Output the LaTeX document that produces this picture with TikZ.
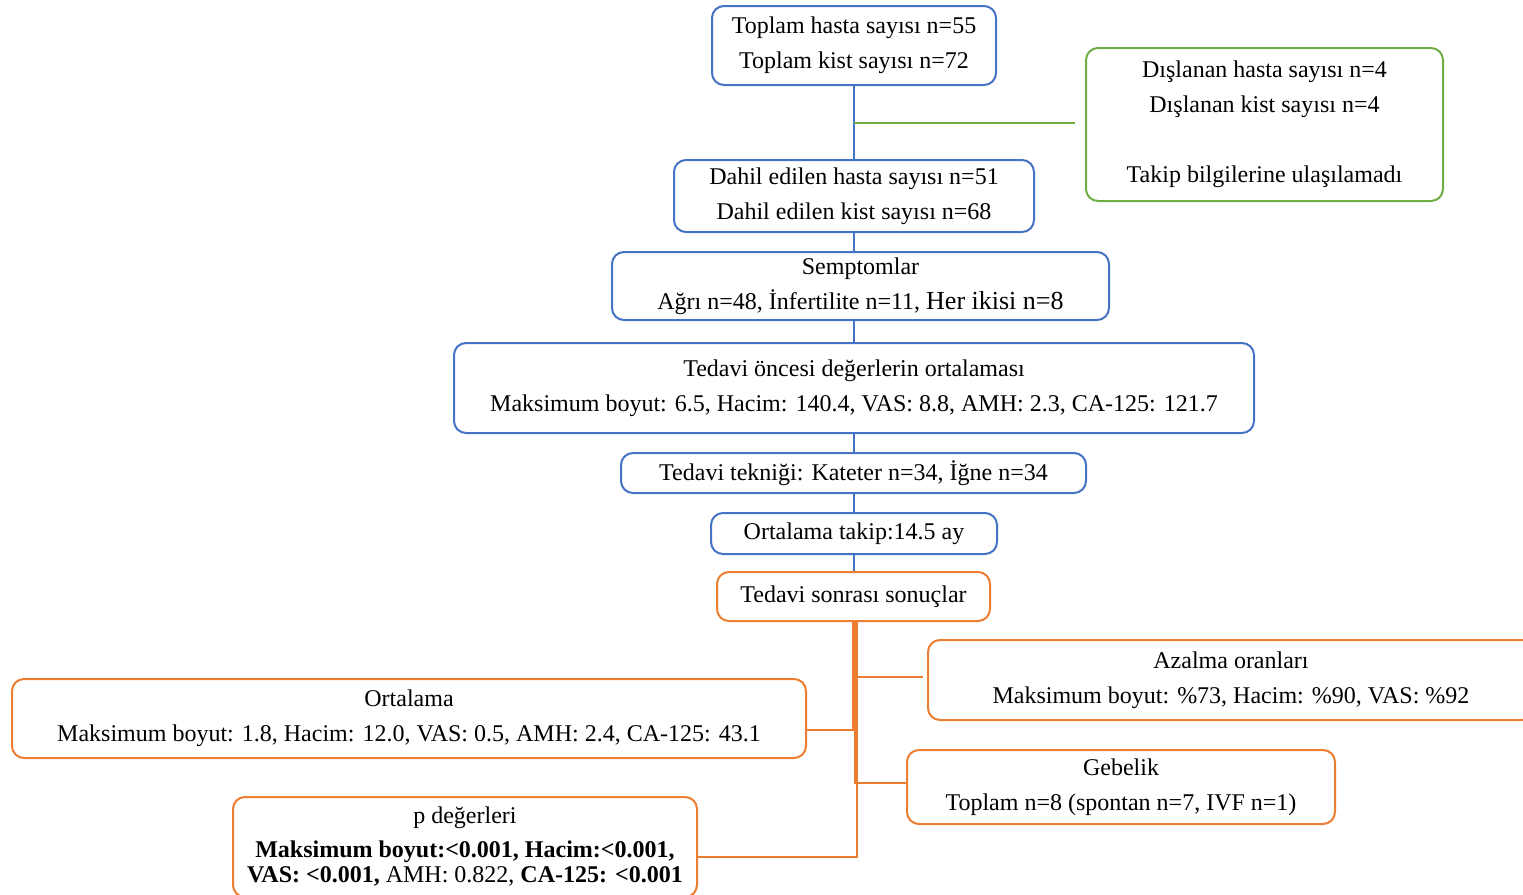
\documentclass[tikz,border=0pt]{standalone}
\usepackage{fontspec}
\setmainfont{Liberation Serif}
\definecolor{fcblue}{HTML}{4472C4}
\definecolor{fcgreen}{HTML}{70AD47}
\definecolor{fcorange}{HTML}{ED7D31}

\begin{document}
\begin{tikzpicture}[x=1pt,y=-1pt,
  font=\fontsize{24}{35}\selectfont,
  bbox/.style={draw=fcblue,line width=2pt,rounded corners=12pt,inner sep=0pt,align=center},
  gbox/.style={bbox,draw=fcgreen},
  obox/.style={bbox,draw=fcorange},
  bl/.style={fcblue,line width=2pt},
  gl/.style={fcgreen,line width=2pt},
  ol/.style={fcorange,line width=2pt}]
\useasboundingbox (0,0) rectangle (1523,894);
\node[bbox,minimum width=284pt,minimum height=79pt] (toplam) at (854,45.5) {Toplam hasta sayısı n=55\\Toplam kist sayısı n=72};
\node[gbox,minimum width=357pt,minimum height=153pt] (dislanan) at (1264.5,124.5) {Dışlanan hasta sayısı n=4\\Dışlanan kist sayısı n=4\\~\\Takip bilgilerine ulaşılamadı};
\node[bbox,minimum width=360pt,minimum height=72pt] (dahil) at (854,196) {Dahil edilen hasta sayısı n=51\\Dahil edilen kist sayısı n=68};
\node[bbox,minimum width=497pt,minimum height=68pt] (semptom) at (860.5,286) {Semptomlar\\Ağrı n=48, İnfertilite n=11, {\fontsize{26}{35}\selectfont Her ikisi n=8}};
\node[bbox,minimum width=800pt,minimum height=90pt] (oncesi) at (854,388) {Tedavi öncesi değerlerin ortalaması\\Maksimum boyut: 6.5, Hacim: 140.4, VAS: 8.8, AMH: 2.3, CA-125: 121.7};
\node[bbox,minimum width=465pt,minimum height=40pt] (teknik) at (853.5,473) {Tedavi tekniği: Kateter n=34, İğne n=34};
\node[bbox,minimum width=286pt,minimum height=41pt] (takip) at (854,533.5) {Ortalama takip:14.5 ay};
\node[obox,minimum width=273pt,minimum height=49pt] (sonrasi) at (853.5,596.5) {Tedavi sonrası sonuçlar};
\node[obox,minimum width=606pt,minimum height=80pt] (azalma) at (1231,680) {Azalma oranları\\Maksimum boyut: \%73, Hacim: \%90, VAS: \%92};
\node[obox,minimum width=794pt,minimum height=79pt] (ortalama) at (409,718.5) {Ortalama\\Maksimum boyut: 1.8, Hacim: 12.0, VAS: 0.5, AMH: 2.4, CA-125: 43.1};
\node[obox,minimum width=428pt,minimum height=74pt] (gebelik) at (1121,787) {Gebelik\\Toplam n=8 (spontan n=7, IVF n=1)};
\node[obox,minimum width=464pt,minimum height=100pt] (pdeger) at (465,847) {p değerleri\\[-1pt]\textbf{Maksimum boyut:<0.001, Hacim:<0.001,}\\[-10pt]\textbf{VAS: <0.001,} AMH: 0.822, \textbf{CA-125: <0.001}};
\coordinate (gx) at (1075,123);
\draw[bl] (toplam) -- (dahil);
\draw[gl] (toplam.south |- gx) -- (gx);
\draw[bl] (dahil) -- (dahil |- semptom.north);
\draw[bl] (oncesi |- semptom.south) -- (oncesi);
\draw[bl] (oncesi) -- (teknik.north -| oncesi);
\draw[bl] (teknik.south -| takip) -- (takip);
\draw[bl] (takip) -- (sonrasi.north -| takip);
\draw[ol] ([xshift=-1pt]sonrasi.south) |- ([xshift=-4pt,yshift=3pt]azalma.west);
\draw[ol] ([xshift=-1pt]sonrasi.south) |- ([yshift=-11.5pt]ortalama.east);
\draw[ol] ([xshift=1pt]sonrasi.south) |- ([yshift=4pt]gebelik.west);
\draw[ol] ([xshift=3pt]sonrasi.south) |- ([yshift=-10pt]pdeger.east);
\end{tikzpicture}
\end{document}
